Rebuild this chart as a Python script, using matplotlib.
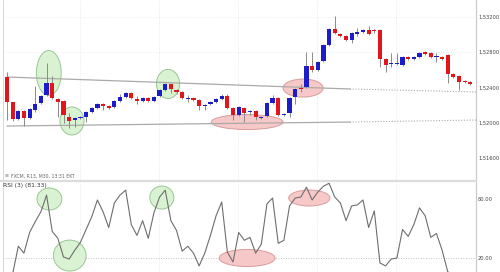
import numpy as np
import matplotlib
matplotlib.use("Agg")
import matplotlib.pyplot as plt
from matplotlib.patches import Ellipse

# candle data (price)
opens = [1.52519, 1.52235, 1.52042, 1.52133, 1.52054, 1.52144, 1.52224, 1.52315, 1.52451, 1.52269,
         1.52247, 1.52065, 1.52031, 1.52054, 1.52065, 1.52122, 1.52167, 1.52213, 1.52190, 1.52179,
         1.52247, 1.52292, 1.52337, 1.52269, 1.52247, 1.52281, 1.52247, 1.52303, 1.52371, 1.52440,
         1.52371, 1.52349, 1.52269, 1.52281, 1.52258, 1.52190, 1.52213, 1.52235, 1.52269, 1.52303,
         1.52167, 1.52088, 1.52167, 1.52122, 1.52133, 1.52054, 1.52076, 1.52224, 1.52281, 1.52088,
         1.52110, 1.52292, 1.52394, 1.52405, 1.52644, 1.52598, 1.52701, 1.52882, 1.53064, 1.53007,
         1.52984, 1.52939, 1.53007, 1.53030, 1.53052, 1.53052, 1.53052, 1.52723, 1.52667, 1.52667,
         1.52655, 1.52746, 1.52723, 1.52746, 1.52803, 1.52791, 1.52746, 1.52746, 1.52769, 1.52553,
         1.52530, 1.52474, 1.52462]
closes = [1.52235, 1.52042, 1.52133, 1.52054, 1.52156, 1.52213, 1.52303, 1.52451, 1.52281, 1.52235,
          1.52088, 1.52020, 1.52054, 1.52065, 1.52122, 1.52167, 1.52213, 1.52190, 1.52167, 1.52247,
          1.52292, 1.52337, 1.52281, 1.52247, 1.52281, 1.52247, 1.52292, 1.52371, 1.52440, 1.52383,
          1.52349, 1.52281, 1.52281, 1.52258, 1.52190, 1.52201, 1.52235, 1.52269, 1.52303, 1.52167,
          1.52088, 1.52179, 1.52110, 1.52133, 1.52065, 1.52065, 1.52224, 1.52281, 1.52088, 1.52099,
          1.52281, 1.52383, 1.52383, 1.52644, 1.52598, 1.52689, 1.52882, 1.53064, 1.53018, 1.52984,
          1.52939, 1.53018, 1.53030, 1.53052, 1.53007, 1.53041, 1.52723, 1.52655, 1.52678, 1.52678,
          1.52746, 1.52723, 1.52746, 1.52791, 1.52780, 1.52746, 1.52757, 1.52723, 1.52553, 1.52519,
          1.52462, 1.52462, 1.52440]
highs = [1.52576, 1.52235, 1.52144, 1.52144, 1.52167, 1.52417, 1.52315, 1.52678, 1.52530, 1.52281,
         1.52258, 1.52110, 1.52065, 1.52076, 1.52133, 1.52179, 1.52224, 1.52224, 1.52201, 1.52258,
         1.52326, 1.52349, 1.52349, 1.52303, 1.52292, 1.52292, 1.52303, 1.52383, 1.52451, 1.52451,
         1.52383, 1.52360, 1.52315, 1.52292, 1.52269, 1.52213, 1.52247, 1.52281, 1.52326, 1.52326,
         1.52179, 1.52190, 1.52179, 1.52144, 1.52144, 1.52076, 1.52235, 1.52315, 1.52292, 1.52110,
         1.52292, 1.52394, 1.52440, 1.52803, 1.52803, 1.52701, 1.52894, 1.53075, 1.53211, 1.53018,
         1.52996, 1.53030, 1.53075, 1.53064, 1.53098, 1.53064, 1.53064, 1.52735, 1.52791, 1.52791,
         1.52757, 1.52757, 1.52757, 1.52803, 1.52814, 1.52803, 1.52791, 1.52757, 1.52780, 1.52565,
         1.52542, 1.52485, 1.52474]
lows = [1.52031, 1.52020, 1.52031, 1.51963, 1.52042, 1.52122, 1.52213, 1.52303, 1.52269, 1.52065,
        1.51997, 1.51940, 1.51952, 1.52042, 1.52008, 1.52110, 1.52156, 1.52144, 1.52156, 1.52167,
        1.52235, 1.52281, 1.52269, 1.52213, 1.52235, 1.52235, 1.52235, 1.52292, 1.52360, 1.52337,
        1.52326, 1.52269, 1.52235, 1.52247, 1.52144, 1.52144, 1.52201, 1.52224, 1.52258, 1.52156,
        1.52031, 1.52076, 1.52008, 1.52088, 1.52031, 1.52042, 1.52065, 1.52213, 1.52076, 1.52076,
        1.52065, 1.52213, 1.52349, 1.52394, 1.52576, 1.52587, 1.52689, 1.52871, 1.53007, 1.52973,
        1.52928, 1.52905, 1.52984, 1.53018, 1.52996, 1.53018, 1.52633, 1.52576, 1.52633, 1.52655,
        1.52644, 1.52712, 1.52712, 1.52735, 1.52769, 1.52735, 1.52689, 1.52712, 1.52451, 1.52508,
        1.52371, 1.52451, 1.52428]

# RSI(3)
rsi = [np.nan, 4, 32, 25, 46, 57, 67, 84, 47, 40, 21, 19, 28, 36, 49, 62, 79, 67, 51, 76,
       84, 89, 54, 43, 58, 40, 66, 82, 89, 58, 48, 27, 32, 25, 12, 25, 43, 63, 77, 26,
       16, 46, 38, 41, 25, 34, 75, 81, 35, 38, 73, 81, 82, 92, 79, 87, 93, 96, 82, 76,
       58, 73, 74, 79, 51, 68, 15, 12, 19, 20, 49, 42, 54, 71, 63, 41, 45, 28, 6, 3,
       2, 2, 1]

price_ticks = [1.516, 1.520, 1.524, 1.528, 1.532]
rsi_ticks = [20, 80]
header = "FXCM, R13, M30, 13:31 EKT"
rsi_label = "RSI (3) (81.33)"

# trend lines: start, end of the solid part, end of the dotted projection
upper_line = [(0, 1.52519), (60.7, 1.52383), (83, 1.52349)]
lower_line = [(0, 1.51963), (60.7, 1.52008), (83, 1.52031)]

RED = "#e2151c"
BLUE = "#1c1cc8"
GREEN_FC = "#d9f2d2"
GREEN_EC = "#98c893"
PINK_FC = "#f7c8c8"
PINK_EC = "#d99c9c"

fig = plt.figure(figsize=(5, 2.72), dpi=100)
ax = fig.add_axes([3 / 500, 91 / 272, 473 / 500, 181 / 272])
ax2 = fig.add_axes([3 / 500, 0, 473 / 500, 91 / 272])

o = np.array(opens)
c = np.array(closes)
h = np.array(highs)
l = np.array(lows)
x = np.arange(len(o))
up = c >= o
cols = np.where(up, BLUE, RED)
body = np.where(np.abs(c - o) < 0.00008, 0.00008 * np.where(up, 1, -1), c - o)

# annotation ellipses on the price panel
for cx, cy, w, hh, fc, ec in [(7.4, 1.52565, 4.4, 0.0051, GREEN_FC, GREEN_EC),
                              (11.5, 1.52020, 4.25, 0.00318, GREEN_FC, GREEN_EC),
                              (28.5, 1.52440, 4.1, 0.0033, GREEN_FC, GREEN_EC),
                              (42.5, 1.52008, 12.7, 0.0017, PINK_FC, PINK_EC),
                              (52.4, 1.52394, 7.1, 0.00204, PINK_FC, PINK_EC)]:
    ax.add_patch(Ellipse((cx, cy), w, hh, facecolor=fc, edgecolor=ec, lw=0.7, zorder=1))

for ln in [upper_line, lower_line]:
    ax.plot([ln[0][0], ln[1][0]], [ln[0][1], ln[1][1]], color="#aaaaaa", lw=0.9, zorder=2)
    ax.plot([ln[1][0], ln[2][0]], [ln[1][1], ln[2][1]], color="#aaaaaa", lw=0.8, ls=(0, (1, 1.5)), zorder=2)

ax.vlines(x, l, h, color="#8a8a8a", lw=0.7, zorder=3)
ax.bar(x, body, bottom=o, width=0.74, color=cols, lw=0, zorder=4)

ax.set_xlim(-0.71, 83.0)
ax.set_ylim(1.51339, 1.53393)
ax.set_yticks(price_ticks)
ax.set_yticklabels(["%.5f" % t for t in price_ticks])
for p in [1.528, 1.532]:
    ax.axhline(p, color="#e4e4e4", lw=0.6, ls=(0, (1, 2)), zorder=0)

# rsi panel
ax2.plot(x, rsi, color="#6e6e6e", lw=0.8, zorder=3)
for cx, cy, w, hh, fc, ec in [(7.5, 80, 4.4, 22.4, GREEN_FC, GREEN_EC),
                              (11.1, 22.5, 5.8, 31.5, GREEN_FC, GREEN_EC),
                              (27.4, 81.5, 4.25, 23.4, GREEN_FC, GREEN_EC),
                              (42.5, 20, 9.9, 17.3, PINK_FC, PINK_EC),
                              (53.5, 81, 7.3, 16.3, PINK_FC, PINK_EC)]:
    ax2.add_patch(Ellipse((cx, cy), w, hh, facecolor=fc, edgecolor=ec, lw=0.7, zorder=1))
ax2.axhline(20, color="#b0b0b0", lw=0.6, ls=(0, (1, 2)), zorder=0)
ax2.set_xlim(-0.71, 83.0)
ax2.set_ylim(5.8, 98.3)
ax2.set_yticks(rsi_ticks)
ax2.set_yticklabels(["%.2f" % t for t in rsi_ticks])

for a in (ax, ax2):
    for gx in [12.9, 26.9, 40.9, 54.9, 68.9]:
        a.axvline(gx, color="#e2e2e2", lw=0.6, ls=(0, (1, 2)), zorder=0)
    a.set_xticks([])
    a.yaxis.tick_right()
    a.tick_params(axis="y", length=0, pad=1.5, labelsize=3.7, labelcolor="#444444")
    for s in ("top", "bottom"):
        a.spines[s].set_visible(False)
    a.spines["right"].set_color("#c8c8c8")
    a.spines["left"].set_color("#d0d0d0")
    a.spines["right"].set_linewidth(0.8)
    a.spines["left"].set_linewidth(0.6)
    a.set_facecolor("none")

# separator between panels
fig.add_artist(plt.Line2D([0, 476 / 500], [91 / 272, 91 / 272], color="#dcdcdc", lw=1.6))

fig.text(5 / 500, 1 - 176 / 272, "\u25a0", fontsize=3, color="#bbbbbb", va="center")
fig.text(11 / 500, 1 - 176 / 272, header, fontsize=3.3, color="#666666", va="center")
fig.text(3 / 500, 1 - 186 / 272, rsi_label, fontsize=4.3, color="#333333", va="center")

fig.savefig("out.png", dpi=100)
